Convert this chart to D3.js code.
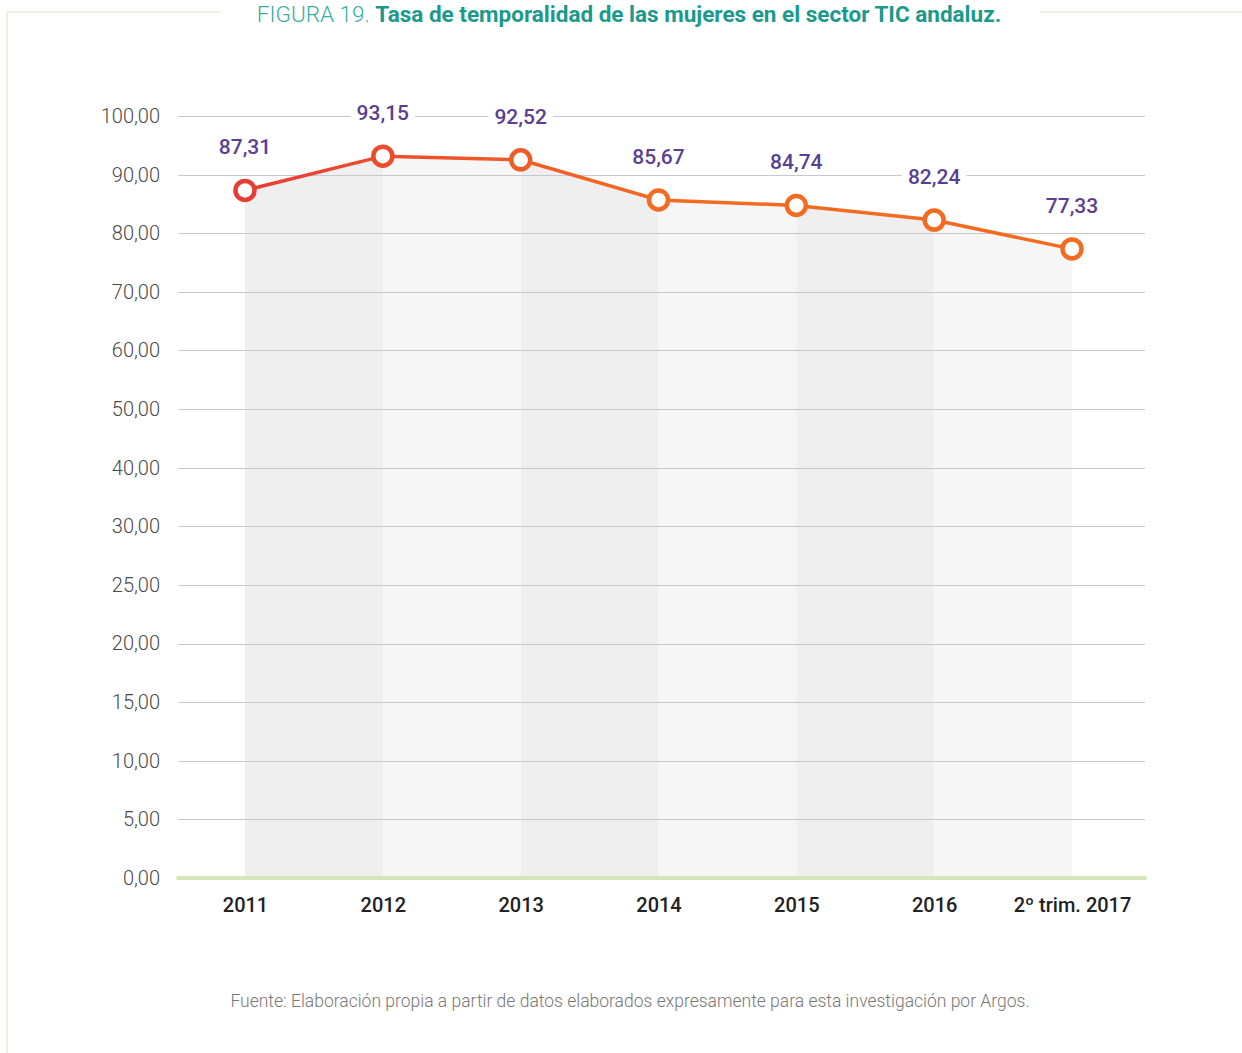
<!DOCTYPE html>
<html>
<head>
<meta charset="utf-8">
<script src="https://cdn.jsdelivr.net/npm/d3@7"></script>
<style>
  body { margin: 0; background: #fff; }
  svg { display: block; }
</style>
</head>
<body>
<div id="chart"></div>
<script>
// Data
var categories = ["2011", "2012", "2013", "2014", "2015", "2016", "2º trim. 2017"];
var values = [87.31, 93.15, 92.52, 85.67, 84.74, 82.24, 77.33];
var yTicks = [0, 5, 10, 15, 20, 25, 30, 40, 50, 60, 70, 80, 90, 100];

var width = 1242, height = 1053;
var fmt = function(v) { return d3.format(".2f")(v).replace(".", ","); };

var svg = d3.select("#chart").append("svg")
    .attr("width", width)
    .attr("height", height)
    .style("font-family", "Roboto, 'Noto Sans', sans-serif");

// Frame
svg.append("path")
    .attr("d", "M7,1053 V12 H220 M1040,12 H1242")
    .attr("fill", "none")
    .attr("stroke", "#e6efd9")
    .attr("stroke-width", 1.5);

// Scales: y axis has uneven steps but evenly spaced ticks
var yTop = 116, yBottom = 878;
var y = d3.scaleLinear()
    .domain(yTicks)
    .range(yTicks.map(function(d, i) { return yBottom - i * (yBottom - yTop) / (yTicks.length - 1); }));

var x = d3.scalePoint()
    .domain(categories)
    .range([245, 1072]);

// Shaded columns under the line
var areaG = svg.append("g");
for (var i = 0; i < values.length - 1; i++) {
  var seg = [i, i + 1];
  var area = d3.area()
      .x(function(k) { return x(categories[k]); })
      .y0(y(0))
      .y1(function(k) { return y(values[k]); });
  areaG.append("path")
      .attr("d", area(seg))
      .attr("fill", i % 2 === 0 ? "#efefef" : "#f6f6f6");
}

// Grid
var grid = svg.append("g");
grid.selectAll("line")
  .data(yTicks.filter(function(d) { return d > 0; }))
  .enter().append("line")
    .attr("x1", 178).attr("x2", 1145)
    .attr("y1", function(d) { return Math.round(y(d)) + 0.5; })
    .attr("y2", function(d) { return Math.round(y(d)) + 0.5; })
    .attr("stroke", "#c8c8cc")
    .attr("stroke-width", 1.2);

// Baseline
svg.append("line")
    .attr("x1", 178).attr("x2", 1145)
    .attr("y1", y(0)).attr("y2", y(0))
    .attr("stroke", "#d5e7b8")
    .attr("stroke-width", 4)
    .attr("stroke-linecap", "round");

// Y axis labels
var yAxis = d3.axisLeft(y).tickValues(yTicks).tickFormat(fmt).tickSize(0).tickPadding(0);
var yg = svg.append("g").attr("transform", "translate(160,0)").call(yAxis);
yg.select(".domain").remove();
yg.selectAll("text")
    .attr("fill", "#4a4a4a")
    .attr("font-size", 20)
    .attr("font-weight", 300)
    .attr("font-family", "Roboto, sans-serif");

// X axis labels
var xAxis = d3.axisBottom(x).tickSize(0).tickPadding(0);
var xg = svg.append("g").attr("transform", "translate(0,898)").call(xAxis);
xg.select(".domain").remove();
xg.selectAll("text")
    .attr("fill", "#222")
    .attr("font-size", 20)
    .attr("font-weight", 500)
    .attr("font-family", "Roboto, sans-serif");

// Line gradient
var defs = svg.append("defs");
var grad = defs.append("linearGradient")
    .attr("id", "lineGrad")
    .attr("gradientUnits", "userSpaceOnUse")
    .attr("x1", x(categories[0])).attr("x2", x(categories[3]))
    .attr("y1", 0).attr("y2", 0);
grad.append("stop").attr("offset", "0%").attr("stop-color", "#e83d35");
grad.append("stop").attr("offset", "100%").attr("stop-color", "#f36b21");

var line = d3.line()
    .x(function(d, i) { return x(categories[i]); })
    .y(function(d) { return y(d); });

svg.append("path")
    .datum(values)
    .attr("d", line)
    .attr("fill", "none")
    .attr("stroke", "url(#lineGrad)")
    .attr("stroke-width", 3.5);

// Points, coloured along the same red-to-orange ramp
svg.append("g").selectAll("circle")
  .data(values)
  .enter().append("circle")
    .attr("cx", function(d, i) { return x(categories[i]); })
    .attr("cy", function(d) { return y(d); })
    .attr("r", 9.5)
    .attr("fill", "#fff")
    .attr("stroke", function(d, i) {
      return d3.interpolateRgb("#e83d35", "#f36b21")(Math.min(1, i / 3));
    })
    .attr("stroke-width", 4.5);

// Value labels with white backing
var labels = svg.append("g");
values.forEach(function(v, i) {
  var lx = x(categories[i]);
  var ly = y(v) - 36;
  var t = labels.append("text")
      .attr("x", lx)
      .attr("y", ly)
      .attr("text-anchor", "middle")
      .attr("fill", "#5b3f92")
      .attr("font-size", 21)
      .attr("font-weight", 500)
      .text(fmt(v));
  var bb = t.node().getBBox();
  labels.insert("rect", function() { return t.node(); })
      .attr("x", bb.x - 6).attr("y", bb.y)
      .attr("width", bb.width + 12).attr("height", bb.height)
      .attr("fill", "#fff");
});

// Title
var title = svg.append("text")
    .attr("x", 629)
    .attr("y", 22)
    .attr("text-anchor", "middle")
    .attr("font-size", 22.5)
    .attr("fill", "#1b9a8c");
title.append("tspan").attr("font-weight", 300).attr("fill", "#3aada3").text("FIGURA 19. ");
title.append("tspan").attr("font-weight", 700).text("Tasa de temporalidad de las mujeres en el sector TIC andaluz.");

// Source
svg.append("text")
    .attr("x", 630)
    .attr("y", 1007)
    .attr("text-anchor", "middle")
    .attr("font-size", 17.5)
    .attr("font-weight", 300)
    .attr("fill", "#777")
    .text("Fuente: Elaboración propia a partir de datos elaborados expresamente para esta investigación por Argos.");
</script>
</body>
</html>
